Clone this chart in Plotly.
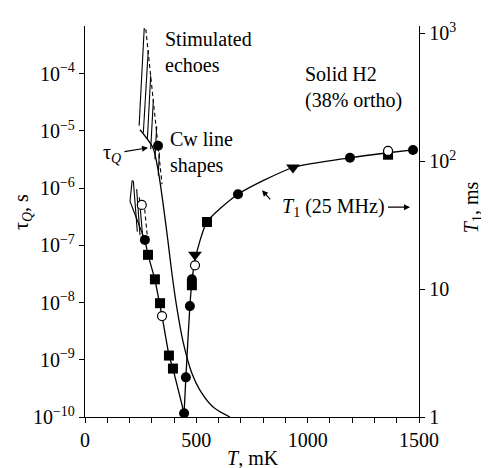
import plotly.graph_objects as go

# ---------------- data (T in mK) ----------------
# tau_Q curve (left axis, s)
tauq_T = [247, 305, 328, 350, 373, 391, 413, 440, 480, 516, 575, 651]
tauq_s = [1.05e-5, 5.1e-6, 2.1e-6, 5.6e-7, 1.15e-7, 3.1e-8, 7.9e-9, 2.1e-9, 5.8e-10, 2.95e-10, 1.5e-10, 1.0e-10]

# Cw line shapes point (left axis)
cw_T = [328]
cw_s = [5.5e-6]

# stimulated echoes hatch segments (left axis): [T_top, T_bottom], [tau_top, tau_bottom]
echo_upper_T = [[266, 243], [284, 262], [295, 280], [307, 295], [322, 314], [334, 329]]
echo_upper_s = [[6.3e-4, 1.23e-5], [2.57e-4, 9.3e-6], [9.3e-5, 7.1e-6], [3.5e-5, 4.8e-6], [1.2e-5, 3.2e-6], [4.2e-6, 1.66e-6]]
echo_upper_dash_T = [273, 346]
echo_upper_dash_s = [6.0e-4, 1.17e-6]

echo_lower_T = [[212, 202], [202, 269], [217, 235], [232, 247], [244, 259]]
echo_lower_s = [[1.38e-6, 5.9e-7], [5.9e-7, 1.23e-7], [1.35e-6, 1.74e-7], [9.6e-7, 1.5e-7], [6.9e-7, 1.42e-7]]
echo_lower_dash_T = [265, 280]
echo_lower_dash_s = [5.6e-7, 1.42e-7]

# T1 data (right axis, ms)
circ_T = [269, 445, 453, 471, 480, 687, 1190, 1473]
circ_ms = [24.2, 1.07, 2.04, 7.35, 11.9, 55, 106, 122]
sq_T = [283, 314, 337, 377, 395, 480, 548, 1361]
sq_ms = [18.5, 11.9, 7.75, 3.02, 2.39, 10.7, 33.4, 112]
open_T = [255, 346, 494, 1361]
open_ms = [45.4, 6.15, 15.3, 120]
tri_T = [494, 934]
tri_ms = [18.5, 89]

# connecting lines (right axis)
left_branch_T = [269, 283, 314, 337, 346, 377, 395, 445]
left_branch_ms = [24.2, 18.5, 11.9, 7.75, 6.15, 3.02, 2.39, 1.07]
right_branch_T = [445, 453, 471, 480, 494, 548, 687, 934, 1190, 1361, 1473]
right_branch_ms = [1.07, 2.04, 7.35, 11.3, 17.0, 33.4, 55, 89, 106, 116, 122]

x_tickvals = [0, 500, 1000, 1500]
x_ticktext = ["0", "500", "1000", "1500"]
yl_tickvals = [1e-10, 1e-9, 1e-8, 1e-7, 1e-6, 1e-5, 1e-4]
yl_ticktext = ["10<sup>−10</sup>", "10<sup>−9</sup>", "10<sup>−8</sup>", "10<sup>−7</sup>",
               "10<sup>−6</sup>", "10<sup>−5</sup>", "10<sup>−4</sup>"]
yr_tickvals = [1, 10, 100, 1000]
yr_ticktext = ["1", "10", "10<sup>2</sup>", "10<sup>3</sup>"]

FONT = "Liberation Serif"
BLACK = "black"

fig = go.Figure()

# tau_Q curve
fig.add_trace(go.Scatter(x=tauq_T, y=tauq_s, mode="lines", line=dict(color=BLACK, width=1.3, shape="spline", smoothing=0.8),
                         yaxis="y", showlegend=False, hoverinfo="skip"))
# hatches
for tx, ts in zip(echo_upper_T + echo_lower_T, echo_upper_s + echo_lower_s):
    fig.add_trace(go.Scatter(x=tx, y=ts, mode="lines", line=dict(color=BLACK, width=1.1),
                             yaxis="y", showlegend=False, hoverinfo="skip"))
for tx, ts in [(echo_upper_dash_T, echo_upper_dash_s), (echo_lower_dash_T, echo_lower_dash_s)]:
    fig.add_trace(go.Scatter(x=tx, y=ts, mode="lines", line=dict(color=BLACK, width=1.1, dash="4px,3px"),
                             yaxis="y", showlegend=False, hoverinfo="skip"))
fig.add_trace(go.Scatter(x=cw_T, y=cw_s, mode="markers", marker=dict(symbol="circle", size=10, color=BLACK),
                         yaxis="y", showlegend=False))

# T1 lines
fig.add_trace(go.Scatter(x=left_branch_T, y=left_branch_ms, mode="lines", line=dict(color=BLACK, width=1.3),
                         yaxis="y2", showlegend=False, hoverinfo="skip"))
fig.add_trace(go.Scatter(x=right_branch_T, y=right_branch_ms, mode="lines",
                         line=dict(color=BLACK, width=1.3, shape="spline", smoothing=0.6),
                         yaxis="y2", showlegend=False, hoverinfo="skip"))
# T1 markers
fig.add_trace(go.Scatter(x=sq_T, y=sq_ms, mode="markers", marker=dict(symbol="square", size=10, color=BLACK),
                         yaxis="y2", showlegend=False))
fig.add_trace(go.Scatter(x=circ_T, y=circ_ms, mode="markers", marker=dict(symbol="circle", size=10, color=BLACK),
                         yaxis="y2", showlegend=False))
fig.add_trace(go.Scatter(x=open_T, y=open_ms, mode="markers",
                         marker=dict(symbol="circle", size=9, color="white", line=dict(color=BLACK, width=1.2)),
                         yaxis="y2", showlegend=False))
fig.add_trace(go.Scatter(x=tri_T, y=tri_ms, mode="markers", marker=dict(symbol="triangle-down", size=12, color=BLACK),
                         yaxis="y2", showlegend=False))

# plot-area edges in page pixels (the page body has an 8px margin)
OFF = 8
L, R, T, B = 85, 419, 22, 417
W, H = 489 - OFF, 468 - OFF
def px(x):
    return (x - L) / (R - L)
def py(y):
    return (B - y) / (B - T)

ann_font = dict(family=FONT, size=20, color=BLACK)
arrow = dict(arrowhead=2, arrowsize=1, arrowwidth=1.2, arrowcolor=BLACK, standoff=0, startstandoff=2)
annotations = [
    dict(x=px(163), y=py(48), xref="paper", yref="paper", text="Stimulated<br>echoes", showarrow=False,
         xanchor="left", yanchor="middle", align="left", font=ann_font),
    dict(x=px(168), y=py(150), xref="paper", yref="paper", text="Cw line<br>shapes", showarrow=False,
         xanchor="left", yanchor="middle", align="left", font=ann_font),
    dict(x=px(148), y=py(145), xref="paper", yref="paper", text="τ<sub><i>Q</i></sub>", showarrow=True,
         ax=-36, ay=6, font=ann_font, **arrow),
    dict(x=px(303), y=py(84), xref="paper", yref="paper", text="Solid H2<br>(38% ortho)", showarrow=False,
         xanchor="left", yanchor="middle", align="left", font=ann_font),
    dict(x=px(410), y=py(205), xref="paper", yref="paper", text="<i>T</i><sub>1</sub> (25 MHz)", showarrow=True,
         ax=-77, ay=0, font=ann_font, **arrow),
    dict(x=px(262), y=py(188), xref="paper", yref="paper", text="", showarrow=True, ax=11, ay=12, **arrow),
    dict(x=px(22), y=py(210), xref="paper", yref="paper", text="τ<sub><i>Q</i></sub>, s", showarrow=False,
         textangle=-90, xanchor="center", yanchor="middle", font=ann_font),
    dict(x=px(472), y=py(205), xref="paper", yref="paper", text="<i>T</i><sub>1</sub>, ms", showarrow=False,
         textangle=-90, xanchor="center", yanchor="middle", font=ann_font),
    dict(x=px(253), y=py(458), xref="paper", yref="paper", text="<i>T</i>, mK", showarrow=False,
         xanchor="center", yanchor="middle", font=ann_font),
]

tick_font = dict(family=FONT, size=20, color=BLACK)
tick_common = dict(ticks="outside", ticklen=5, tickwidth=1.2, tickcolor=BLACK, showline=True, linecolor=BLACK,
                   linewidth=1.3, showgrid=False, zeroline=False, tickfont=tick_font)
fig.update_layout(
    width=W, height=H, autosize=False,
    margin=dict(l=L - OFF, r=W - (R - OFF), t=T - OFF, b=H - (B - OFF), pad=0),
    paper_bgcolor="white", plot_bgcolor="white",
    showlegend=False,
    xaxis=dict(range=[0, 1500], tickvals=x_tickvals, ticktext=x_ticktext,
               minor=dict(dtick=100, ticks="outside", ticklen=5, tickwidth=1.2, tickcolor=BLACK, showgrid=False),
               **tick_common),
    yaxis=dict(type="log", range=[-10, -10 + 395 / 57.8], tickvals=yl_tickvals, ticktext=yl_ticktext, **tick_common),
    yaxis2=dict(type="log", range=[0, 395 / 129.3], tickvals=yr_tickvals, ticktext=yr_ticktext,
                overlaying="y", side="right", **tick_common),
    annotations=annotations,
)

fig.write_html("out.html")
